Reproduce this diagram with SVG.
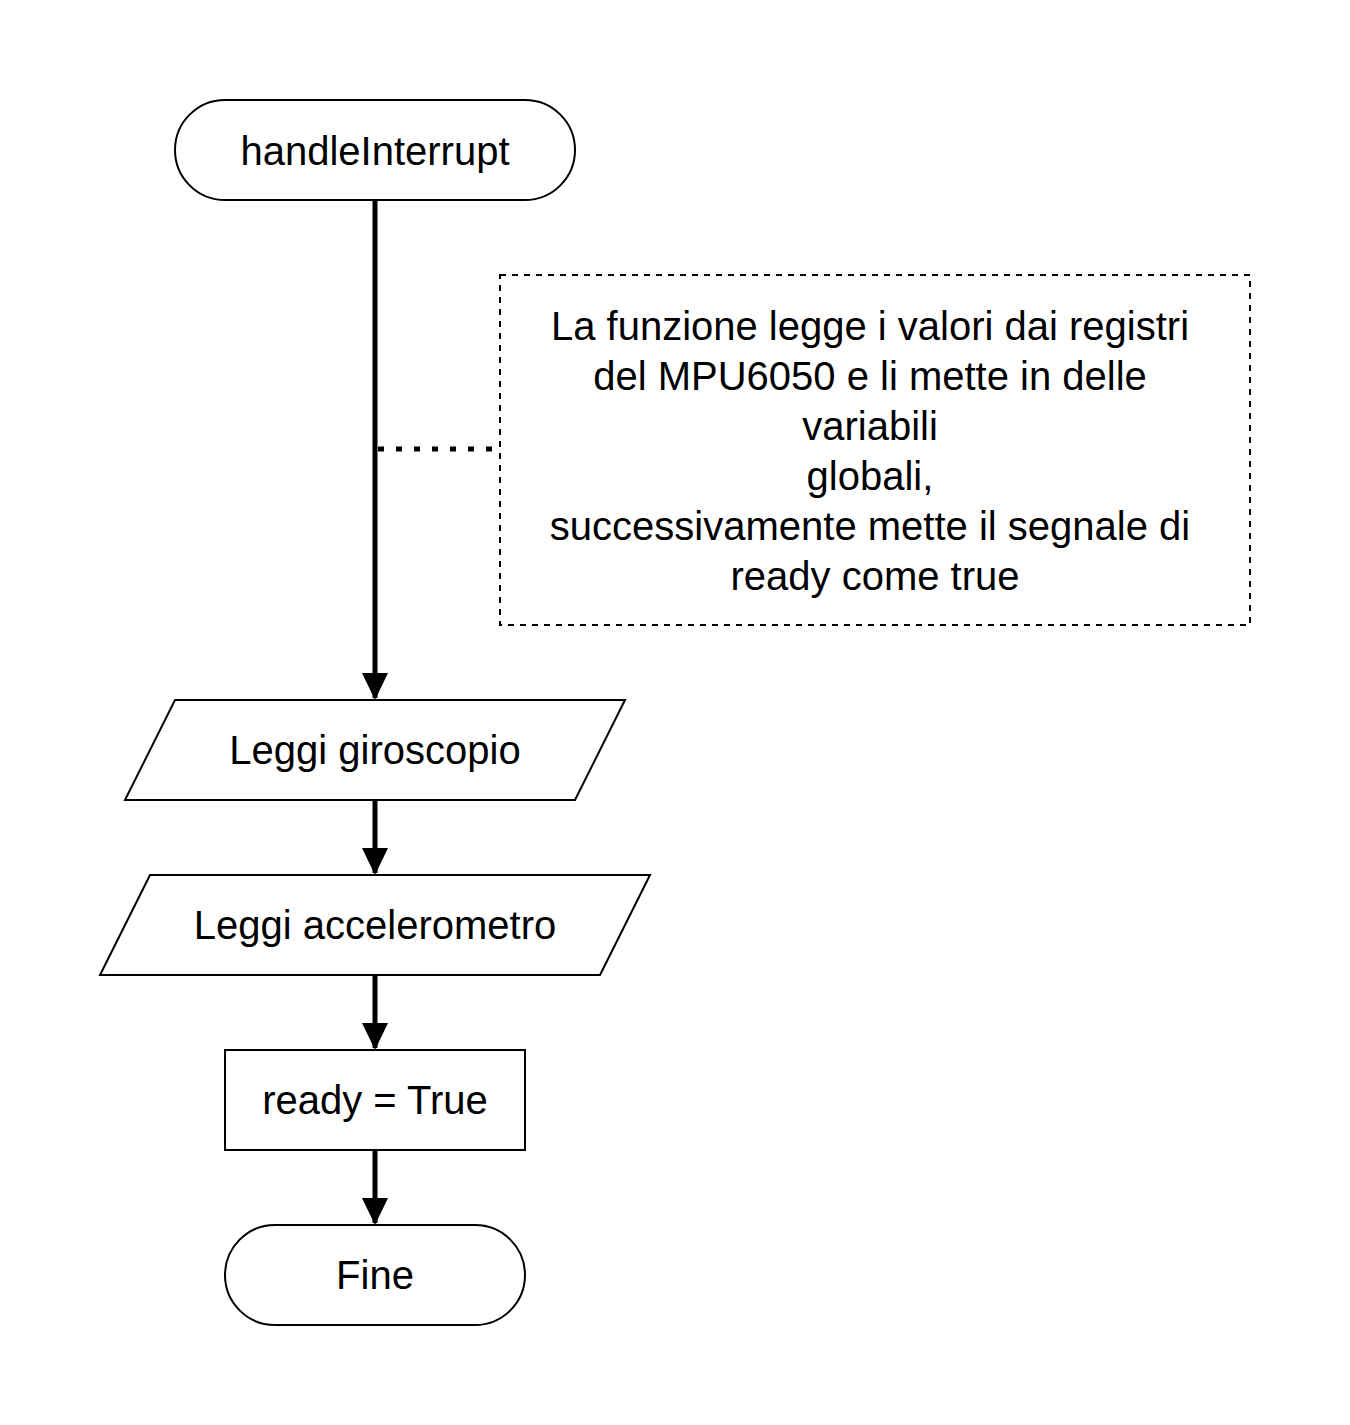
<svg xmlns="http://www.w3.org/2000/svg" width="1350" height="1425" viewBox="0 0 1350 1425">
<style>
.s{fill:#fff;stroke:#000;stroke-width:2}
.t{font-family:"Liberation Sans",Arial,sans-serif;font-size:40px;fill:#000;text-anchor:middle}
.c{stroke:#000;stroke-width:5;fill:none}
</style>
<defs>
<marker id="a" markerWidth="6" markerHeight="6" refX="5" refY="3" orient="auto" markerUnits="strokeWidth">
<path d="M0,0.4 L5.4,3 L0,5.6 Z" fill="#000"/>
</marker>
</defs>
<rect width="1350" height="1425" fill="#fff"/>
<g id="connectors">
<path class="c" d="M375,200 V698" marker-end="url(#a)"/>
<path class="c" d="M375,800 V873" marker-end="url(#a)"/>
<path class="c" d="M375,975 V1048" marker-end="url(#a)"/>
<path class="c" d="M375,1150 V1223" marker-end="url(#a)"/>
<path d="M378,449 H498" stroke="#000" stroke-width="5" stroke-dasharray="6 12"/>
</g>
<g id="start">
<rect class="s" x="175" y="100" width="400" height="100" rx="50"/>
<text class="t" x="375" y="165">handleInterrupt</text>
</g>
<g id="note">
<rect x="500" y="275" width="750" height="350" fill="#fff" stroke="#000" stroke-width="2" stroke-dasharray="6 6"/>
<text class="t" x="870" y="340">La funzione legge i valori dai registri</text>
<text class="t" x="870" y="390">del MPU6050 e li mette in delle</text>
<text class="t" x="870" y="440">variabili</text>
<text class="t" x="870" y="490">globali,</text>
<text class="t" x="870" y="540">successivamente mette il segnale di</text>
<text class="t" x="875" y="590">ready come true</text>
</g>
<g id="gyro">
<path class="s" d="M175,700 H625 L575,800 H125 Z"/>
<text class="t" x="375" y="764">Leggi giroscopio</text>
</g>
<g id="accel">
<path class="s" d="M150,875 H650 L600,975 H100 Z"/>
<text class="t" x="375" y="939">Leggi accelerometro</text>
</g>
<g id="ready">
<rect class="s" x="225" y="1050" width="300" height="100"/>
<text class="t" x="375" y="1114">ready = True</text>
</g>
<g id="end">
<rect class="s" x="225" y="1225" width="300" height="100" rx="50"/>
<text class="t" x="375" y="1289">Fine</text>
</g>
</svg>
